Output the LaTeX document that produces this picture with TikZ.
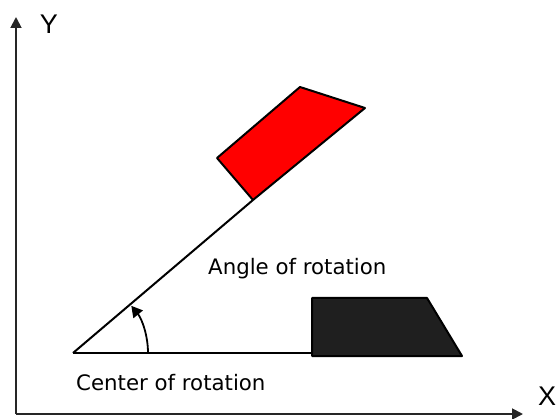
\documentclass[tikz,border=0pt]{standalone}
\usepackage{fontspec}
\setmainfont{Liberation Sans}
\newfontfamily\lblfont{DejaVu Sans}
\usetikzlibrary{arrows.meta, positioning}

\begin{document}
\begin{tikzpicture}[
    x=1pt, y=1pt,
    axisLine/.style={
        draw=black!85,
        line width=1.8pt,
        -{Triangle[length=11pt, width=11pt]}
    },
    armLine/.style={
        draw=black,
        line width=2pt
    },
    axisLbl/.style={
        font=\fontsize{27}{30}\selectfont,
        inner sep=0pt
    },
    textLbl/.style={
        font=\lblfont\fontsize{21.3}{24}\selectfont,
        inner sep=0pt,
        anchor=base west
    }
]
\useasboundingbox (0,0) rectangle (557,418);

% Axes
\coordinate (orig) at (16,4);
\coordinate (xEnd) at (523,4);
\coordinate (yEnd) at (16,401);
\draw[axisLine] (orig) -- (xEnd);
\draw[axisLine] (orig) -- (yEnd);
\node[axisLbl] (xLbl) at (547,22) {X};
\node[axisLbl] (yLbl) at (49,394) {Y};

% Center of rotation and arms
\coordinate (center) at (73,65);
\coordinate (flatEnd) at (312,65);
\coordinate (tiltEnd) at (253,218);
\draw[armLine] (center) -- (flatEnd);
\draw[armLine] (center) -- (tiltEnd);

% Original shape
\draw[armLine, fill=black!88, line join=round]
    (312,120) -- (427,120) -- (462,62) -- (312,62) -- cycle;

% Rotated shape
\draw[armLine, fill=red, line join=round]
    (217,260) -- (300,331) -- (365,310) -- (tiltEnd) -- cycle;

% Angle
\draw[armLine, line width=1.8pt, -{Triangle[length=11pt, width=12pt]}]
    ([xshift=75pt]center) arc[start angle=0, end angle=39, radius=75pt];

% Labels
\node[textLbl] (angleLbl) at (208,143) {Angle of rotation};
\node[textLbl] (centerLbl) at (76,28) {Center of rotation};

\end{tikzpicture}
\end{document}
